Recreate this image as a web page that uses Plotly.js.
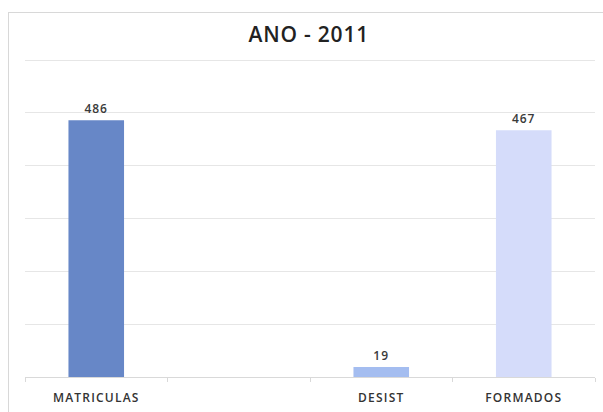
<!DOCTYPE html>
<html>
<head>
<meta charset="utf-8">
<script src="https://cdn.plot.ly/plotly-3.0.1.min.js"></script>
<style>
html,body{margin:0;padding:0;background:#fff;}
#wrap{position:relative;width:603px;height:412px;overflow:hidden;}
#frame{position:absolute;left:8px;top:12px;width:640px;height:460px;border:1px solid #d8d8d8;box-sizing:border-box;}
#chart{position:absolute;left:0;top:0;width:603px;height:412px;}
#chart .xtick text{letter-spacing:1.2px;}
#chart .bartext text, #chart text.bartext{letter-spacing:1px;}
#chart .gtitle{letter-spacing:0.8px;}
</style>
</head>
<body>
<div id="wrap"><div id="frame"></div><div id="chart"></div></div>
<script>
const categories = ["MATRICULAS", " ", "DESIST", "FORMADOS"];
const values = [486, null, 19, 467];
const labels = ["486", "", "19", "467"];
const chartTitle = "ANO - 2011";
const barColors = ["#6787c7", "#ffffff", "#a4bdf0", "#d5dcfa"];

const trace = {
  type: "bar",
  x: categories,
  y: values,
  text: labels,
  textposition: "outside",
  cliponaxis: false,
  textfont: {family: "Open Sans, Liberation Sans, sans-serif", size: 12, color: "#3a3a3a", weight: 600},
  marker: {color: barColors, line: {width: 0}},
  hoverinfo: "x+y"
};

const layout = {
  width: 603, height: 412,
  margin: {l: 25, r: 8, t: 59, b: 35, pad: 0},
  paper_bgcolor: "rgba(0,0,0,0)",
  plot_bgcolor: "rgba(0,0,0,0)",
  title: {text: chartTitle, x: 0.512, xanchor: "center", y: 0.915, yanchor: "middle",
    font: {family: "Open Sans, Liberation Sans, sans-serif", size: 21, color: "#222222", weight: 600}},
  bargap: 0.61,
  showlegend: false,
  xaxis: {
    type: "category",
    showgrid: false,
    showline: true, linecolor: "#d9d9d9", linewidth: 1,
    ticks: "outside", tickson: "boundaries", ticklen: 4, tickcolor: "#d9d9d9",
    ticklabelstandoff: 10,
    tickfont: {family: "Open Sans, Liberation Sans, sans-serif", size: 12, color: "#333333", weight: 600},
    zeroline: false
  },
  yaxis: {
    range: [0, 602],
    tickvals: [100, 200, 300, 400, 500, 600],
    showticklabels: false,
    showgrid: true, gridcolor: "#e6e6e6", gridwidth: 1,
    zeroline: false, showline: false, ticks: ""
  }
};

Plotly.newPlot("chart", [trace], layout, {displayModeBar: false, staticPlot: true});
</script>
</body>
</html>
